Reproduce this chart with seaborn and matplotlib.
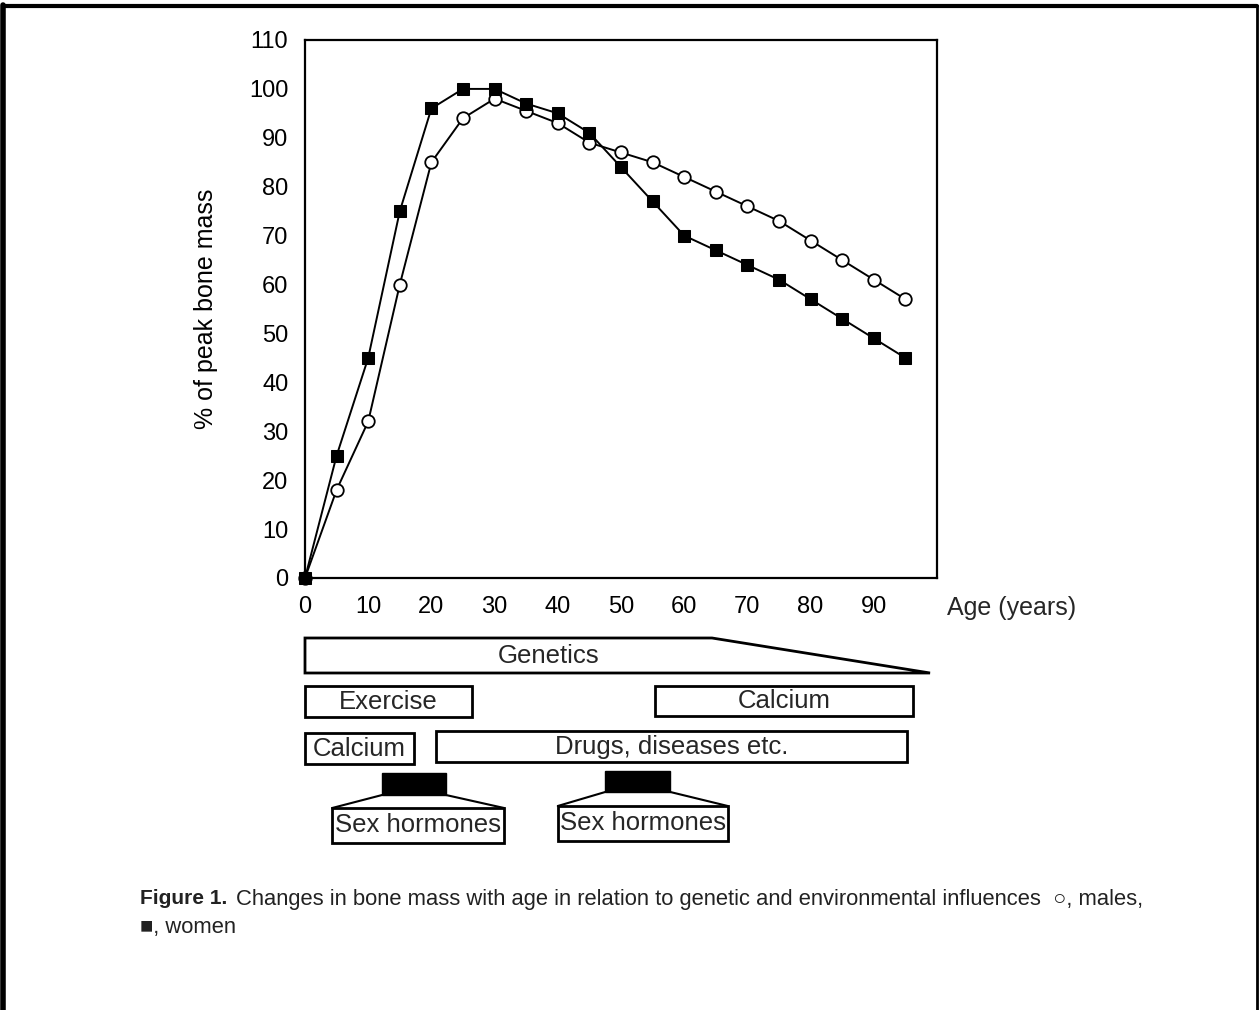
import numpy as np
import pandas as pd
import matplotlib
matplotlib.use("Agg")
import matplotlib.pyplot as plt
import seaborn as sns
from matplotlib.patches import Rectangle, Polygon
from matplotlib.lines import Line2D

# data
age = [0, 5, 10, 15, 20, 25, 30, 35, 40, 45, 50, 55, 60, 65, 70, 75, 80, 85, 90, 95]
women = [0, 25, 45, 75, 96, 100, 100, 97, 95, 91, 84, 77, 70, 67, 64, 61, 57, 53, 49, 45]
males = [0, 18, 32, 60, 85, 94, 98, 95.5, 93, 89, 87, 85, 82, 79, 76, 73, 69, 65, 61, 57]

x_ticks = [0, 10, 20, 30, 40, 50, 60, 70, 80, 90]
y_ticks = [0, 10, 20, 30, 40, 50, 60, 70, 80, 90, 100, 110]

# influence boxes: (label, age start, age end)
box_labels = ["Exercise", "Calcium", "Calcium", "Drugs, diseases etc."]
box_start = [0, 55.4, 0, 20.7]
box_end = [26.4, 96.2, 17.2, 95.3]
genetics_flat_end = 64.4
genetics_end = 98.9
hormone_bar_start = [12.2, 47.5]
hormone_bar_end = [22.3, 57.8]
hormone_box_start = [4.3, 40.0]
hormone_box_end = [31.5, 66.9]

sns.set_theme(style="white")
plt.rcParams["font.family"] = ["Liberation Sans", "DejaVu Sans"]

df = pd.DataFrame({"age": age + age,
                   "val": women + males,
                   "sex": ["women"] * len(age) + ["males"] * len(age)})

fig = plt.figure(figsize=(12.6, 10.1), dpi=100)
ax = fig.add_axes([305 / 1260, 1 - 578 / 1010, 632 / 1260, 538 / 1010])

sns.lineplot(data=df[df.sex == "males"], x="age", y="val", ax=ax, color="black",
             lw=1.4, marker="o", markersize=9, markerfacecolor="white",
             markeredgecolor="black", markeredgewidth=1.3, clip_on=False, zorder=3)
sns.lineplot(data=df[df.sex == "women"], x="age", y="val", ax=ax, color="black",
             lw=1.4, marker="s", markersize=8.5, markerfacecolor="black",
             markeredgecolor="black", clip_on=False, zorder=3)

ax.set_xlim(0, 100)
ax.set_ylim(0, 110)
ax.set_xticks(x_ticks)
ax.set_xticks(np.arange(5, 100, 10), minor=True)
ax.set_yticks(y_ticks)
ax.tick_params(axis="both", direction="in", length=6, width=1.2, labelsize=17,
               colors="black")
ax.tick_params(axis="x", pad=13)
ax.tick_params(axis="y", pad=12)
ax.tick_params(axis="x", which="minor", direction="in", length=5, width=1.2)
for s in ax.spines.values():
    s.set_color("black")
    s.set_linewidth(1.6)
ax.set_xlabel("")
ax.set_ylabel("% of peak bone mass", fontsize=18, color="black")
ax.yaxis.set_label_coords(-0.138, 0.5)
fig.text(947 / 1260, 1 - 608 / 1010, "Age (years)", fontsize=18, va="center",
         ha="left")

# lower diagram in age units (x) and pixel rows (y)
bx = fig.add_axes([305 / 1260, 1 - 850 / 1010, 632 / 1260, 220 / 1010])
bx.set_xlim(0, 100)
bx.set_ylim(850, 630)
bx.axis("off")
kw = dict(fill=False, edgecolor="black", lw=2, clip_on=False)

bx.add_patch(Polygon([(0, 638), (genetics_flat_end, 638), (genetics_end, 673), (0, 673)],
                     closed=True, **kw))
bx.text(38.5, 656, "Genetics", ha="center", va="center", fontsize=18.5)

rows = [(686, 717), (686, 716), (733, 764), (731, 762)]
for lab, s0, s1, (y0, y1) in zip(box_labels, box_start, box_end, rows):
    bx.add_patch(Rectangle((s0, y0), s1 - s0, y1 - y0, **kw))
    bx.text((s0 + s1) / 2, (y0 + y1) / 2, lab, ha="center", va="center", fontsize=18.5)

bar_rows = [(773, 795), (771, 792)]
box_rows = [(808, 843), (806, 841)]
for b0, b1, h0, h1, (y0, y1), (z0, z1) in zip(hormone_bar_start, hormone_bar_end,
                                                hormone_box_start, hormone_box_end,
                                                bar_rows, box_rows):
    bx.add_patch(Rectangle((b0, y0), b1 - b0, y1 - y0, facecolor="black",
                           edgecolor="black", clip_on=False))
    bx.plot([b0, h0], [y1, z0], color="black", lw=1.5, clip_on=False)
    bx.plot([b1, h1], [y1, z0], color="black", lw=1.5, clip_on=False)
    bx.add_patch(Rectangle((h0, z0), h1 - h0, z1 - z0, **kw))
    bx.text((h0 + h1) / 2, (z0 + z1) / 2, "Sex hormones", ha="center", va="center",
            fontsize=18.5)

# caption
fig.text(140 / 1260, 1 - 899 / 1010, "Figure 1.", fontsize=15, fontweight="bold",
         va="center", color="#222222")
fig.text(236 / 1260, 1 - 899 / 1010,
         "Changes in bone mass with age in relation to genetic and environmental influences  \u25cb, males,",
         fontsize=15.8, va="center", color="#222222")
fig.text(140 / 1260, 1 - 928 / 1010, "\u25a0, women", fontsize=15.8, va="center",
         color="#222222")

# page frame
fig.add_artist(Line2D([3 / 1260, 3 / 1260], [0, 1 - 5 / 1010], color="black", lw=4,
                      transform=fig.transFigure))
fig.add_artist(Line2D([3 / 1260, 1257 / 1260], [1 - 6 / 1010, 1 - 6 / 1010], color="black",
                      lw=3, transform=fig.transFigure))
fig.add_artist(Line2D([1257 / 1260, 1257 / 1260], [0, 1 - 6 / 1010], color="black", lw=2,
                      transform=fig.transFigure))

fig.savefig("out.png", dpi=100)
